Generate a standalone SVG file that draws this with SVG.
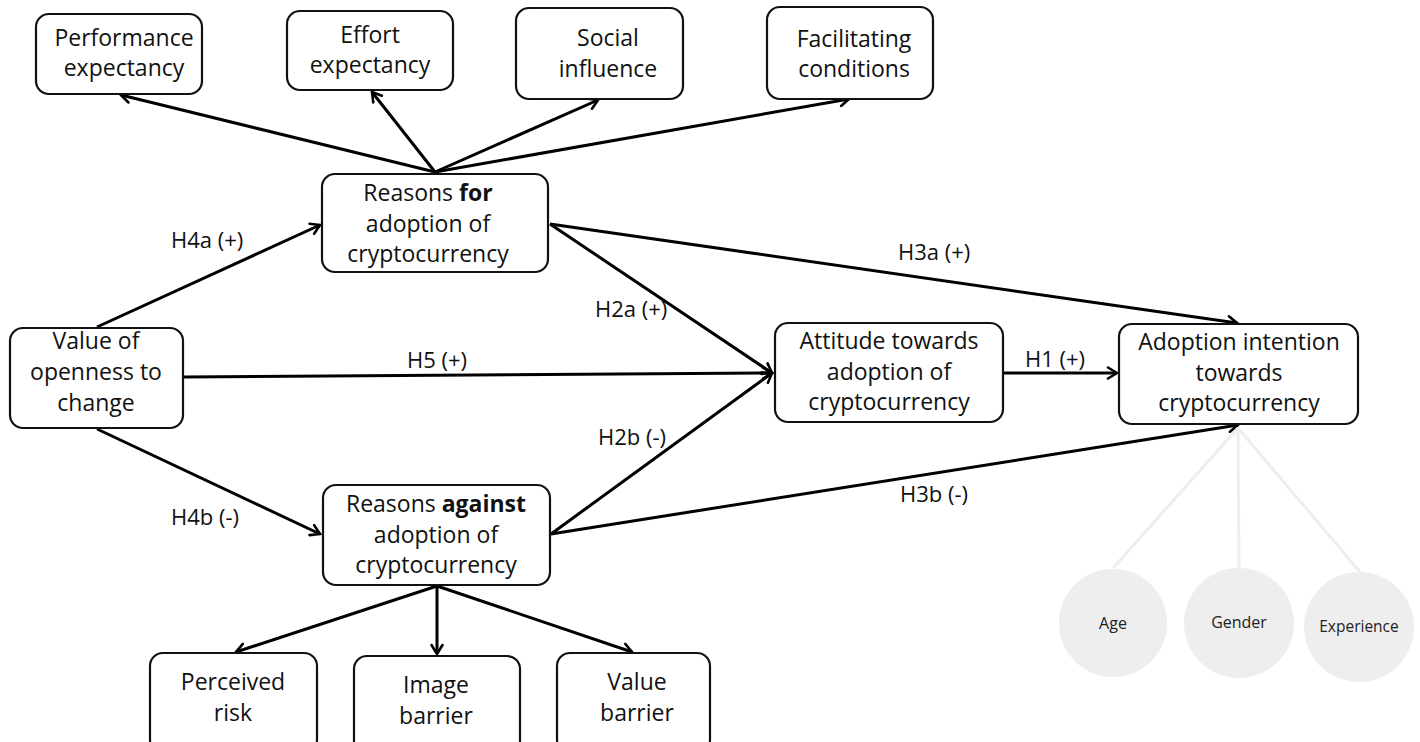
<svg xmlns="http://www.w3.org/2000/svg" width="1420" height="742" viewBox="0 0 1420 742">
<style>
.box{fill:#fff;stroke:#111;stroke-width:2.2}
.t{font-family:"Open Sans","Liberation Sans",sans-serif;font-size:23px;fill:#111;text-anchor:middle}
.lbl{font-family:"Open Sans","Liberation Sans",sans-serif;font-size:22px;fill:#111}
.b{font-weight:bold}
.edge{stroke:#000;stroke-width:3;fill:none}
.mod{stroke:#eeeeee;stroke-width:3;fill:none}
.circ{fill:#eeeeee}
.ct{font-family:"Open Sans","Liberation Sans",sans-serif;font-size:16px;fill:#222;text-anchor:middle}
</style>
<defs>
<marker id="arr" viewBox="0 0 14 14" refX="12" refY="7" markerWidth="14" markerHeight="14" markerUnits="userSpaceOnUse" orient="auto">
<path d="M3,1.5 L12,7 L3,12.5" fill="none" stroke="#000" stroke-width="2.6" stroke-linecap="round" stroke-linejoin="miter"/>
</marker>
</defs>
<rect width="1420" height="742" fill="#fff"/>

<g id="connectors">
<line class="edge" x1="435" y1="172" x2="121" y2="95" marker-end="url(#arr)"/>
<line class="edge" x1="435" y1="172" x2="372" y2="92" marker-end="url(#arr)"/>
<line class="edge" x1="435" y1="172" x2="598" y2="100" marker-end="url(#arr)"/>
<line class="edge" x1="435" y1="172" x2="849" y2="99" marker-end="url(#arr)"/>
<line class="edge" x1="97" y1="327" x2="320" y2="225" marker-end="url(#arr)"/>
<line class="edge" x1="97" y1="429" x2="320" y2="534" marker-end="url(#arr)"/>
<line class="edge" x1="184" y1="377" x2="772" y2="373" marker-end="url(#arr)"/>
<line class="edge" x1="550" y1="224" x2="772" y2="373" marker-end="url(#arr)"/>
<line class="edge" x1="551" y1="534" x2="772" y2="373" marker-end="url(#arr)"/>
<line class="edge" x1="550" y1="224" x2="1237" y2="323" marker-end="url(#arr)"/>
<line class="edge" x1="551" y1="534" x2="1238" y2="425" marker-end="url(#arr)"/>
<line class="edge" x1="1004" y1="373" x2="1117" y2="373" marker-end="url(#arr)"/>
<line class="edge" x1="437" y1="586" x2="236" y2="652" marker-end="url(#arr)"/>
<line class="edge" x1="437" y1="586" x2="437" y2="654" marker-end="url(#arr)"/>
<line class="edge" x1="437" y1="586" x2="632" y2="652" marker-end="url(#arr)"/>
<line class="mod" x1="1238" y1="428" x2="1113" y2="568"/>
<line class="mod" x1="1238" y1="428" x2="1239" y2="568"/>
<line class="mod" x1="1238" y1="428" x2="1360" y2="572"/>
</g>

<g id="labels">
<text class="lbl" x="171" y="248">H4a (+)</text>
<text class="lbl" x="407" y="368">H5 (+)</text>
<text class="lbl" x="171" y="525">H4b (-)</text>
<text class="lbl" x="595" y="317">H2a (+)</text>
<text class="lbl" x="598" y="445">H2b (-)</text>
<text class="lbl" x="898" y="260">H3a (+)</text>
<text class="lbl" x="900" y="502">H3b (-)</text>
<text class="lbl" x="1025" y="367">H1 (+)</text>
</g>

<g id="performance">
<rect class="box" x="36" y="14" width="166" height="80" rx="13"/>
<text class="t" x="124" y="46">Performance</text>
<text class="t" x="124" y="76">expectancy</text>
</g>
<g id="effort">
<rect class="box" x="287" y="11" width="166" height="79" rx="13"/>
<text class="t" x="370" y="43">Effort</text>
<text class="t" x="370" y="73">expectancy</text>
</g>
<g id="social">
<rect class="box" x="516" y="8" width="167" height="91" rx="13"/>
<text class="t" x="608" y="46">Social</text>
<text class="t" x="608" y="77">influence</text>
</g>
<g id="facilitating">
<rect class="box" x="767" y="7" width="166" height="92" rx="13"/>
<text class="t" x="854" y="47">Facilitating</text>
<text class="t" x="854" y="77">conditions</text>
</g>
<g id="reasons-for">
<rect class="box" x="322" y="174" width="226" height="98" rx="13"/>
<text class="t" x="428" y="201">Reasons <tspan class="b">for</tspan></text>
<text class="t" x="428" y="232">adoption of</text>
<text class="t" x="428" y="262">cryptocurrency</text>
</g>
<g id="value-openness">
<rect class="box" x="10" y="328" width="173" height="100" rx="13"/>
<text class="t" x="96" y="349">Value of</text>
<text class="t" x="96" y="380">openness to</text>
<text class="t" x="96" y="411">change</text>
</g>
<g id="attitude">
<rect class="box" x="775" y="323" width="228" height="99" rx="13"/>
<text class="t" x="889" y="349">Attitude towards</text>
<text class="t" x="889" y="380">adoption of</text>
<text class="t" x="889" y="410">cryptocurrency</text>
</g>
<g id="adoption-intention">
<rect class="box" x="1119" y="324" width="239" height="100" rx="13"/>
<text class="t" x="1239" y="350">Adoption intention</text>
<text class="t" x="1239" y="381">towards</text>
<text class="t" x="1239" y="411">cryptocurrency</text>
</g>
<g id="reasons-against">
<rect class="box" x="323" y="485" width="227" height="100" rx="13"/>
<text class="t" x="436" y="512">Reasons <tspan class="b">against</tspan></text>
<text class="t" x="436" y="543">adoption of</text>
<text class="t" x="436" y="573">cryptocurrency</text>
</g>
<g id="perceived-risk">
<rect class="box" x="150" y="653" width="167" height="100" rx="13"/>
<text class="t" x="233" y="690">Perceived</text>
<text class="t" x="233" y="721">risk</text>
</g>
<g id="image-barrier">
<rect class="box" x="354" y="656" width="166" height="100" rx="13"/>
<text class="t" x="436" y="693">Image</text>
<text class="t" x="436" y="724">barrier</text>
</g>
<g id="value-barrier">
<rect class="box" x="557" y="653" width="153" height="100" rx="13"/>
<text class="t" x="637" y="690">Value</text>
<text class="t" x="637" y="721">barrier</text>
</g>
<g id="age">
<circle class="circ" cx="1113" cy="623" r="54"/>
<text class="ct" x="1113" y="629">Age</text>
</g>
<g id="gender">
<circle class="circ" cx="1239" cy="623" r="55"/>
<text class="ct" x="1239" y="628">Gender</text>
</g>
<g id="experience">
<circle class="circ" cx="1359" cy="627" r="55"/>
<text class="ct" x="1359" y="632" style="font-size:15.5px">Experience</text>
</g>
</svg>
